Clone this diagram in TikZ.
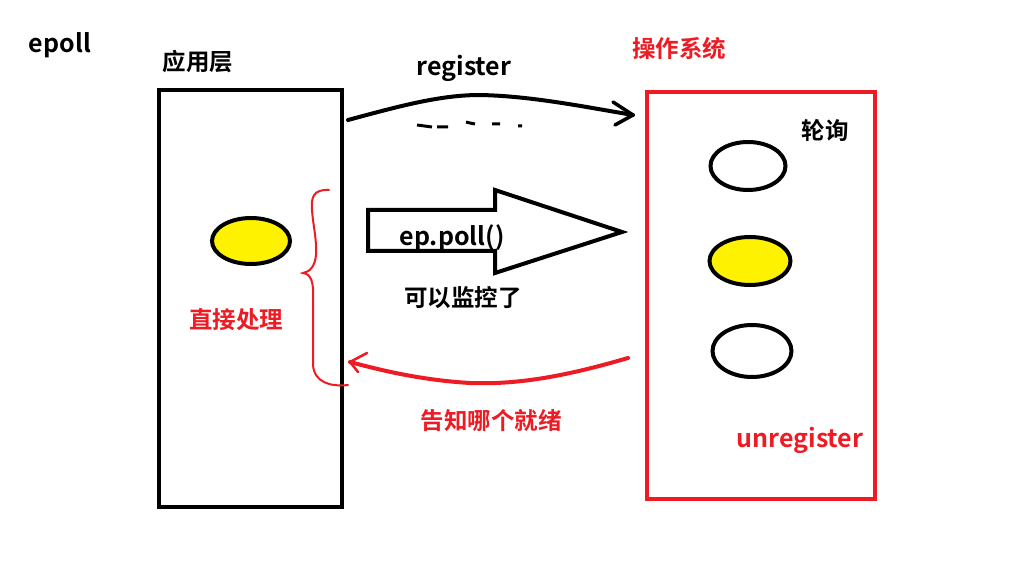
\documentclass[tikz,border=0pt]{standalone}
\usepackage{fontspec}
\newfontfamily\cjk{Noto Sans CJK SC}[BoldFont={Noto Sans CJK SC Bold}]
\usetikzlibrary{arrows.meta}
\definecolor{pred}{RGB}{237,28,36}
\definecolor{pyel}{RGB}{255,242,0}
\tikzset{
  lbl/.style={font=\cjk\bfseries\fontsize{23.5}{26}\selectfont, inner sep=0pt},
  latlbl/.style={font=\cjk\bfseries\fontsize{25}{28}\selectfont, inner sep=0pt},
  redlbl/.style={lbl, text=pred},
  redlat/.style={latlbl, text=pred},
  thick4/.style={line width=4pt},
}
\begin{document}
\begin{tikzpicture}[x=1pt,y=-1pt]
\fill[white] (0,0) rectangle (1018,577);
\useasboundingbox (0,0) rectangle (1018,577);

% texts
\node[latlbl] (epoll) at (60,45) {epoll};
\node[lbl] (app) at (198,62) {应用层};
\node[redlbl] (os) at (679,49) {操作系统};
\node[latlbl] (reg) at (464,68) {register};
\node[latlbl] (poll) at (452,238) {ep.poll()};
\node[lbl] (mon) at (463,298) {可以监控了};
\node[redlbl] (direct) at (236,320) {直接处理};
\node[redlbl] (notify) at (491,421) {告知哪个就绪};
\node[lbl] (lunxun) at (825,130) {轮询};
\node[redlat] (unreg) at (800,440) {unregister};

% boxes
\draw[thick4] (159,90) rectangle (342,507);
\draw[thick4, pred] (647,92) rectangle (875,499);

% ellipses
\draw[thick4, fill=pyel] (251,241) ellipse [x radius=39, y radius=23];
\draw[thick4] (748,166) ellipse [x radius=37.5, y radius=24];
\draw[thick4, fill=pyel] (750,261) ellipse [x radius=40.5, y radius=24];
\draw[thick4] (752,351) ellipse [x radius=39.5, y radius=26];

% register arrow
\coordinate (regS) at (348,120);
\coordinate (regE) at (633,115);
\draw[thick4, line cap=round] (regS) .. controls (400,106) and (440,95) .. (480,95)
  .. controls (530,96) and (580,106) .. (regE);
\draw[line width=3.5pt, line cap=round, line join=round] (613,102) -- (regE) -- (615,125);
% dashes
\draw[line width=3pt] (417,125) -- (432,127) (437,127) -- (448,127)
  (466,122) -- (470,123) -- (475,124) (492,124) -- (500,124) (518,126) -- (522,126);

% block arrow
\draw[thick4, line join=miter] (495,210) -- (368,210) -- (368,251) -- (495,251)
  -- (495,273) -- (622,232) -- (495,190) -- cycle;

% red return arrow
\coordinate (retS) at (628,358);
\coordinate (retE) at (350,362);
\draw[thick4, pred, line cap=round] (retS) .. controls (570,375) and (520,385) .. (470,383)
  .. controls (420,380) and (380,370) .. (retE);
\draw[line width=2.5pt, pred, line cap=round, line join=round] (367,353) -- (retE) -- (358,372);

% red brace
\draw[line width=2pt, pred, line cap=round] (329,190) .. controls (313,189) and (311,198) .. (312,210)
  .. controls (313,225) and (317,240) .. (316,255)
  .. controls (315,266) and (310,272) .. (303,273)
  .. controls (311,274) and (314,282) .. (313,300)
  -- (313,365) .. controls (314,382) and (330,387) .. (348,385);
\end{tikzpicture}
\end{document}
